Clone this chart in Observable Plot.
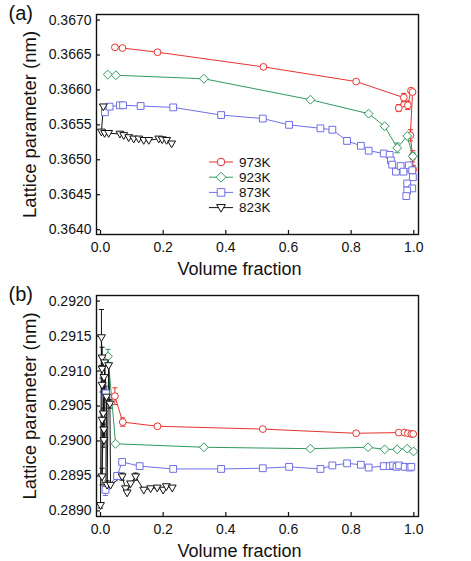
<!DOCTYPE html>
<html>
<head>
<meta charset="utf-8">
<script src="https://cdn.jsdelivr.net/npm/d3@7"></script>
<script src="https://cdn.jsdelivr.net/npm/@observablehq/plot@0.6"></script>
<style>
  body { margin: 0; background: #fff; }
  #chart { width: 471px; height: 561px; }
  #chart svg { display: block; }
</style>
</head>
<body>
<div id="chart"></div>
<script>
// Series and tick values
const temps = ["973K", "923K", "873K", "823K"];
const colors = ["#e8332f", "#2f9a60", "#6f6fe8", "#111111"];
const xTicks = [0, 0.2, 0.4, 0.6, 0.8, 1.0];
const aTicks = [0.3640, 0.3645, 0.3650, 0.3655, 0.3660, 0.3665, 0.3670];
const bTicks = [0.2890, 0.2895, 0.2900, 0.2905, 0.2910, 0.2915, 0.2920];
const xTitle = "Volume fraction";
const yTitle = "Lattice parameter (nm)";

// (a) FCC lattice parameter
const a973x = [0.046, 0.070, 0.182, 0.520, 0.816, 0.968, 0.952, 0.981, 0.991, 0.996, 0.989, 0.996, 0.998, 0.988];
const a973y = [0.36661, 0.36660, 0.36654, 0.36633, 0.36612, 0.36589, 0.36574, 0.36578, 0.36599, 0.36597, 0.36535, 0.36505, 0.36486, 0.36486];
const a973e = [0, 0, 0, 0, 0, 0.00006, 0.00005, 0.00006, 0, 0, 0.00008, 0.00008, 0.00006, 0];

const a923x = [0.023, 0.049, 0.330, 0.670, 0.856, 0.907, 0.947, 0.979, 0.997];
const a923y = [0.36622, 0.36621, 0.36616, 0.36586, 0.36566, 0.36548, 0.36517, 0.36534, 0.36505];
const a923e = [0, 0, 0, 0, 0, 0, 0.00007, 0, 0.00005];

const a873x = [0.014, 0.029, 0.062, 0.072, 0.128, 0.232, 0.385, 0.518, 0.602, 0.702, 0.740, 0.787, 0.831, 0.856, 0.904, 0.923, 0.927, 0.931, 0.943, 0.958, 0.967, 0.984, 0.995, 0.997, 0.979, 0.995, 0.979, 0.976];
const a873y = [0.36568, 0.36576, 0.36578, 0.36578, 0.36577, 0.36575, 0.36564, 0.36559, 0.36550, 0.36545, 0.36543, 0.36527, 0.36520, 0.36513, 0.36509, 0.36507, 0.36499, 0.36493, 0.36483, 0.36491, 0.36483, 0.36492, 0.36485, 0.36475, 0.36466, 0.36459, 0.36456, 0.36448];
const a873e = a873x.map(() => 0);

const a823x = [0.009, 0.003, 0.013, 0.026, 0.062, 0.074, 0.090, 0.106, 0.122, 0.138, 0.154, 0.186, 0.197, 0.211, 0.227];
const a823y = [0.36576, 0.36540, 0.36538, 0.36538, 0.36537, 0.36535, 0.36532, 0.36530, 0.36530, 0.36528, 0.36528, 0.36530, 0.36529, 0.36528, 0.36523];
const a823e = a823x.map(() => 0);

// (b) BCC lattice parameter
const b973x = [0.046, 0.071, 0.182, 0.518, 0.816, 0.952, 0.970, 0.981, 0.992, 0.998];
const b973y = [0.29064, 0.29027, 0.29021, 0.29017, 0.29011, 0.29012, 0.29012, 0.29011, 0.29010, 0.29010];
const b973e = [0.00012, 0.00006, 0, 0, 0, 0, 0, 0, 0, 0];

const b923x = [0.024, 0.048, 0.330, 0.670, 0.854, 0.907, 0.947, 0.979, 0.999];
const b923y = [0.29121, 0.28996, 0.28991, 0.28989, 0.28991, 0.28988, 0.28988, 0.28989, 0.28985];
const b923e = [0.00010, 0, 0, 0, 0, 0, 0, 0, 0];

const b873x = [0.017, 0.016, 0.053, 0.069, 0.125, 0.232, 0.385, 0.518, 0.602, 0.702, 0.740, 0.787, 0.831, 0.856, 0.904, 0.923, 0.934, 0.945, 0.953, 0.971, 0.987, 0.992];
const b873y = [0.29068, 0.28930, 0.28950, 0.28970, 0.28964, 0.28960, 0.28960, 0.28961, 0.28963, 0.28960, 0.28965, 0.28968, 0.28966, 0.28962, 0.28964, 0.28964, 0.28965, 0.28963, 0.28965, 0.28963, 0.28962, 0.28963];
const b873e = [0.00010, 0.00008, 0.00005, 0, 0, 0, 0, 0, 0, 0, 0, 0, 0, 0, 0, 0, 0, 0, 0, 0, 0, 0];

const b823x = [0.000, 0.003, 0.005, 0.005, 0.005, 0.005, 0.005, 0.009, 0.011, 0.011, 0.011, 0.013, 0.019, 0.021, 0.026, 0.030, 0.032, 0.069, 0.080, 0.085, 0.096, 0.112, 0.138, 0.160, 0.181, 0.200, 0.210, 0.229];
const b823y = [0.28908, 0.29148, 0.29119, 0.29103, 0.29080, 0.29030, 0.28949, 0.29039, 0.29091, 0.29016, 0.29001, 0.29112, 0.29063, 0.28937, 0.29108, 0.29053, 0.28937, 0.28949, 0.28932, 0.28926, 0.28939, 0.28949, 0.28930, 0.28932, 0.28933, 0.28930, 0.28935, 0.28933];
const b823e = [0.00004, 0.00040, 0.00015, 0, 0.00010, 0.00010, 0.00012, 0.00008, 0, 0.00008, 0.00010, 0, 0.00008, 0.00006, 0, 0.00006, 0, 0.00005, 0, 0, 0, 0.00005, 0, 0, 0, 0, 0, 0];

// Marker shapes (size is π r², r is the half-width in px)
const rad = size => Math.sqrt(size / Math.PI);
const circleSym = {draw(ctx, size) { const r = rad(size); ctx.moveTo(r, 0); ctx.arc(0, 0, r, 0, 2 * Math.PI); ctx.closePath(); }};
const diamondSym = {draw(ctx, size) { const r = rad(size) * 1.3; ctx.moveTo(0, -r); ctx.lineTo(r, 0); ctx.lineTo(0, r); ctx.lineTo(-r, 0); ctx.closePath(); }};
const squareSym = {draw(ctx, size) { const r = rad(size); ctx.moveTo(-r, -r); ctx.lineTo(r, -r); ctx.lineTo(r, r); ctx.lineTo(-r, r); ctx.closePath(); }};
const triDownSym = {draw(ctx, size) { const r = rad(size); ctx.moveTo(-r * 1.15, -r * 0.8); ctx.lineTo(r * 1.15, -r * 0.8); ctx.lineTo(0, r * 1.2); ctx.closePath(); }};
const capSym = {draw(ctx, size) { const r = rad(size); ctx.moveTo(-r, 0); ctx.lineTo(r, 0); }};
const symbols = [circleSym, diamondSym, squareSym, triDownSym];

function rows(list) {
  return list.flatMap(([temp, xs, ys, es]) => xs.map((x, i) => ({temp, x, y: ys[i], e: es[i]})));
}

const dataA = rows([["973K", a973x, a973y, a973e], ["923K", a923x, a923y, a923e], ["873K", a873x, a873y, a873e], ["823K", a823x, a823y, a823e]]);
const dataB = rows([["973K", b973x, b973y, b973e], ["923K", b923x, b923y, b923e], ["873K", b873x, b873y, b873e], ["823K", b823x, b823y, b823e]]);

const font = "'Liberation Sans', Arial, Helvetica, sans-serif";

function panel(data, yDomain, yTicks, tag, height, marginTop, marginBottom, tagDy) {
  const errs = data.filter(d => d.e > 0);
  const caps = errs.flatMap(d => [{...d, y: d.y - d.e}, {...d, y: d.y + d.e}]);
  return Plot.plot({
    width: 471,
    height,
    marginTop,
    marginBottom,
    marginLeft: 96,
    marginRight: 53,
    style: {fontFamily: font, fontSize: "14px", color: "#111", background: "#fff", overflow: "visible"},
    x: {domain: [-0.0128, 1.015]},
    y: {domain: yDomain},
    color: {domain: temps, range: colors},
    symbol: {domain: temps, range: symbols},
    marks: [
      Plot.axisX(xTicks, {tickSize: -4, tickPadding: 12, tickFormat: d3.format(".1f"), label: null, strokeWidth: 1.2}),
      Plot.axisY(yTicks, {tickSize: -4, tickPadding: 9, tickFormat: d3.format(".4f"), label: null, strokeWidth: 1.2}),
      Plot.ruleX(errs, {x: "x", y1: d => d.y - d.e, y2: d => d.y + d.e, stroke: "temp", strokeWidth: 1}),
      Plot.dot(caps, {x: "x", y: "y", stroke: "temp", symbol: () => capSym, r: 2.6, strokeWidth: 1}),
      Plot.line(data, {x: "x", y: "y", z: "temp", stroke: "temp", strokeWidth: 1}),
      Plot.dot(data, {x: "x", y: "y", stroke: "temp", symbol: "temp", r: 3.4, fill: "white", strokeWidth: 1}),
      Plot.frame({stroke: "#111", strokeWidth: 1.4}),
      Plot.text([tag], {frameAnchor: "top-left", dx: -88, dy: tagDy, lineAnchor: "bottom", textAnchor: "start", fontSize: 20, fill: "#111"}),
      Plot.text([xTitle], {frameAnchor: "bottom", dx: -18, dy: 40, lineAnchor: "bottom", textAnchor: "middle", fontSize: 18, fill: "#111"}),
      Plot.text([yTitle], {frameAnchor: "left", dx: -66, rotate: -90, lineAnchor: "middle", textAnchor: "middle", fontSize: 18.5, fill: "#111"})
    ]
  });
}

const chart = document.getElementById("chart");
const plotA = panel(dataA, [0.36393, 0.36708], aTicks, "(a)", 280, 14, 46, 5);
const plotB = panel(dataB, [0.28892, 0.29208], bTicks, "(b)", 281, 15, 45, 5);
chart.appendChild(plotA);
chart.appendChild(plotB);

// Legend inside panel (a)
const legend = d3.select(plotA).append("g")
  .attr("transform", "translate(209,162)")
  .attr("text-anchor", "start")
  .style("font-family", font)
  .style("font-size", "13.5px");
temps.forEach((t, i) => {
  const g = legend.append("g").attr("transform", `translate(0,${i * 15.2})`);
  g.append("line").attr("x1", 0).attr("x2", 24).attr("stroke", colors[i]).attr("stroke-width", 1);
  g.append("path").attr("transform", "translate(12,0)")
    .attr("d", d3.symbol(symbols[i], Math.PI * 3.8 * 3.8)())
    .attr("fill", "white").attr("stroke", colors[i]).attr("stroke-width", 1);
  g.append("text").attr("x", 30).attr("dy", "0.35em").attr("fill", "#111").text(t);
});
</script>
</body>
</html>
